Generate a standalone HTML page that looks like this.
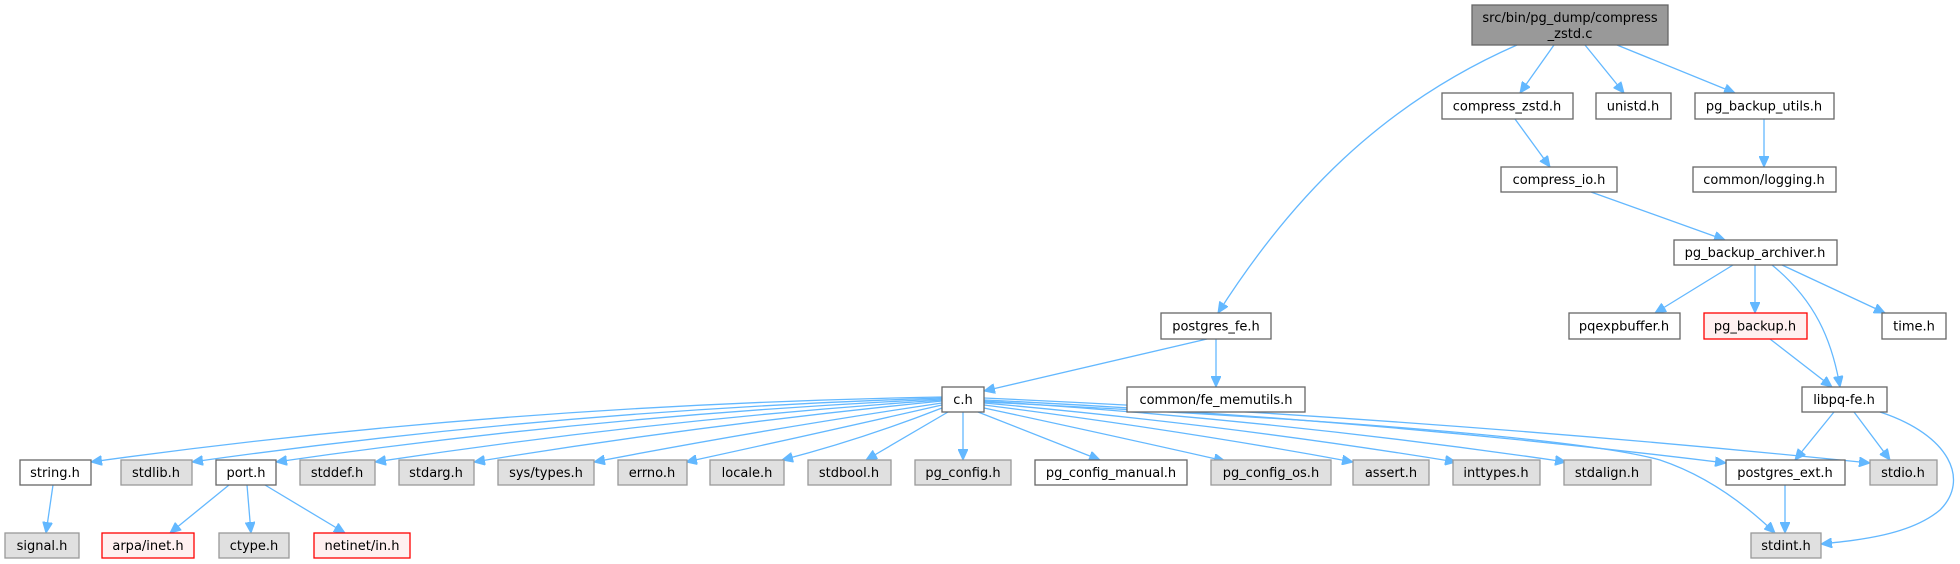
<!DOCTYPE html>
<html><head><meta charset="utf-8"><style>
html,body{margin:0;padding:0;background:#fff;}
svg{display:block;}
text{font-family:"DejaVu Sans","Liberation Sans",sans-serif;font-size:13px;fill:#000;text-anchor:middle;}
.e{fill:none;stroke:#63b8ff;stroke-width:1.3;marker-end:url(#a);}
.w{fill:#fff;stroke:#666;stroke-width:1.3;}
.g{fill:#e0e0e0;stroke:#999;stroke-width:1.3;}
.r{fill:#fff0f0;stroke:#f00;stroke-width:1.3;}
.root{fill:#999;stroke:#666;stroke-width:1.3;}
</style></head><body>
<svg width="1960" height="564" viewBox="0 0 1960 564" xmlns="http://www.w3.org/2000/svg">
<defs><marker id="a" markerWidth="12" markerHeight="10" refX="11" refY="5" orient="auto" markerUnits="userSpaceOnUse"><path d="M0,0 L11,5 L0,10 Z" fill="#63b8ff" stroke="#63b8ff"/></marker></defs>

<path class="e" d="M1517,45 C1380,105 1290,200 1218,313"/>
<path class="e" d="M1554,45 L1520,93"/>
<path class="e" d="M1585,45 L1624,93"/>
<path class="e" d="M1617,45 L1735,93"/>
<path class="e" d="M1515,119 L1550,167"/>
<path class="e" d="M1591,192 L1725,240"/>
<path class="e" d="M1764,119 L1764,167"/>
<path class="e" d="M1733,265 L1655,313"/>
<path class="e" d="M1755,265 L1755,313"/>
<path class="e" d="M1772,265 C1815,300 1832,340 1840,387"/>
<path class="e" d="M1782,265 L1885,313"/>
<path class="e" d="M1770,339 L1832,387"/>
<path class="e" d="M1834,412 L1795,460"/>
<path class="e" d="M1854,412 L1890,460"/>
<path class="e" d="M1880,412 C1950,435 1970,480 1940,510 C1910,535 1860,540 1821,544"/>
<path class="e" d="M1785,485 L1785,533"/>
<path class="e" d="M1207,339 L984,391"/>
<path class="e" d="M1216,339 L1216,387"/>
<path class="e" d="M53,485 L46,533"/>
<path class="e" d="M229,485 L170,533"/>
<path class="e" d="M247,485 L251,533"/>
<path class="e" d="M265,485 L345,533"/>

<path class="e" d="M942,397 Q500,405 91,462"/>
<path class="e" d="M942,398 Q560,410 192,462"/>
<path class="e" d="M942,399 Q600,415 276,462"/>
<path class="e" d="M942,400 Q650,420 375,462"/>
<path class="e" d="M942,401 Q700,425 474,462"/>
<path class="e" d="M942,403 Q760,430 594,462"/>
<path class="e" d="M942,405 Q810,435 686,462"/>
<path class="e" d="M942,408 Q860,440 782,460"/>
<path class="e" d="M948,412 L866,460"/>
<path class="e" d="M963,412 L963,460"/>
<path class="e" d="M978,412 L1100,460"/>
<path class="e" d="M984,408 Q1110,435 1225,461"/>
<path class="e" d="M984,405 Q1180,430 1353,462"/>
<path class="e" d="M984,403 Q1230,425 1456,462"/>
<path class="e" d="M984,401 Q1280,420 1566,462"/>
<path class="e" d="M984,400 Q1360,418 1726,463"/>
<path class="e" d="M984,398 Q1430,418 1870,463"/>
<path class="e" d="M984,402 Q1550,430 1660,460 Q1720,480 1775,533"/>

<rect class="root" x="1472" y="5" width="196" height="40"/>
<text x="1570" y="22">src/bin/pg_dump/compress</text>
<text x="1570" y="38">_zstd.c</text>

<rect class="w" x="1442" y="93" width="131" height="26"/><text x="1507" y="110.5">compress_zstd.h</text>
<rect class="w" x="1596" y="93" width="75" height="26"/><text x="1633" y="110.5">unistd.h</text>
<rect class="w" x="1695" y="93" width="139" height="26"/><text x="1764" y="110.5">pg_backup_utils.h</text>

<rect class="w" x="1501" y="167" width="116" height="25"/><text x="1559" y="184">compress_io.h</text>
<rect class="w" x="1693" y="167" width="143" height="25"/><text x="1764" y="184">common/logging.h</text>

<rect class="w" x="1674" y="240" width="163" height="25"/><text x="1755" y="257">pg_backup_archiver.h</text>

<rect class="w" x="1161" y="313" width="110" height="26"/><text x="1216" y="330.5">postgres_fe.h</text>
<rect class="w" x="1569" y="313" width="111" height="26"/><text x="1624" y="330.5">pqexpbuffer.h</text>
<rect class="r" x="1704" y="313" width="103" height="26"/><text x="1755" y="330.5">pg_backup.h</text>
<rect class="w" x="1882" y="313" width="64" height="26"/><text x="1914" y="330.5">time.h</text>

<rect class="w" x="942" y="387" width="42" height="25"/><text x="963" y="404">c.h</text>
<rect class="w" x="1127" y="387" width="178" height="25"/><text x="1216" y="404">common/fe_memutils.h</text>
<rect class="w" x="1802" y="387" width="85" height="25"/><text x="1844" y="404">libpq-fe.h</text>

<rect class="w" x="20" y="460" width="71" height="25"/><text x="55" y="477">string.h</text>
<rect class="g" x="121" y="460" width="71" height="25"/><text x="156" y="477">stdlib.h</text>
<rect class="w" x="216" y="460" width="60" height="25"/><text x="246" y="477">port.h</text>
<rect class="g" x="300" y="460" width="75" height="25"/><text x="337" y="477">stddef.h</text>
<rect class="g" x="399" y="460" width="75" height="25"/><text x="436" y="477">stdarg.h</text>
<rect class="g" x="498" y="460" width="96" height="25"/><text x="546" y="477">sys/types.h</text>
<rect class="g" x="618" y="460" width="69" height="25"/><text x="652" y="477">errno.h</text>
<rect class="g" x="710" y="460" width="74" height="25"/><text x="747" y="477">locale.h</text>
<rect class="g" x="808" y="460" width="83" height="25"/><text x="849" y="477">stdbool.h</text>
<rect class="g" x="915" y="460" width="96" height="25"/><text x="963" y="477">pg_config.h</text>
<rect class="w" x="1035" y="460" width="152" height="25"/><text x="1111" y="477">pg_config_manual.h</text>
<rect class="g" x="1211" y="460" width="120" height="25"/><text x="1271" y="477">pg_config_os.h</text>
<rect class="g" x="1353" y="460" width="76" height="25"/><text x="1391" y="477">assert.h</text>
<rect class="g" x="1453" y="460" width="87" height="25"/><text x="1496" y="477">inttypes.h</text>
<rect class="g" x="1564" y="460" width="87" height="25"/><text x="1607" y="477">stdalign.h</text>
<rect class="w" x="1726" y="460" width="119" height="25"/><text x="1785" y="477">postgres_ext.h</text>
<rect class="g" x="1870" y="460" width="67" height="25"/><text x="1903" y="477">stdio.h</text>

<rect class="g" x="5" y="533" width="74" height="25"/><text x="42" y="550">signal.h</text>
<rect class="r" x="102" y="533" width="92" height="25"/><text x="148" y="550">arpa/inet.h</text>
<rect class="g" x="219" y="533" width="70" height="25"/><text x="254" y="550">ctype.h</text>
<rect class="r" x="314" y="533" width="96" height="25"/><text x="362" y="550">netinet/in.h</text>
<rect class="g" x="1751" y="533" width="70" height="25"/><text x="1786" y="550">stdint.h</text>
</svg>
</body></html>
